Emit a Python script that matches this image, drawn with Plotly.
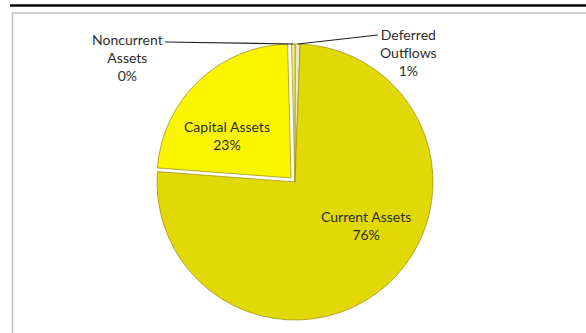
import math
import plotly.graph_objects as go

# Asset composition (percent of total)
labels = ["Deferred Outflows", "Current Assets", "Capital Assets", "Noncurrent Assets"]
label_lines = ["Deferred<br>Outflows", "Current Assets", "Capital Assets", "Noncurrent<br>Assets"]
values = [0.6, 75.6, 23.4, 0.4]

# Styling
colors = ["#EEE8C6", "#E1D905", "#F9F500", "#F3EC80"]
exploded = "Capital Assets"        # slice drawn separately, nudged outward

W, H = 586, 333
CX, CY, R = 295, 182, 138          # pie centre / radius in pixels
EX_DX, EX_DY, EX_R = -4, -4, 134   # exploded slice: offset and radius in pixels


def px(x):
    return x / W


def py(y):
    return 1 - y / H


def domain(cx, cy, r):
    return dict(x=[px(cx - r), px(cx + r)], y=[py(cy + r), py(cy - r)])


total = sum(values)
pct = [f"{round(v / total * 100):.0f}%" for v in values]

clear = "rgba(0,0,0,0)"
edge = "#A39520"
base_colors = [clear if n == exploded else c for n, c in zip(labels, colors)]
base_lines = [clear if n == exploded else edge for n in labels]
ex_colors = [c if n == exploded else clear for n, c in zip(labels, colors)]
ex_lines = [edge if n == exploded else clear for n in labels]

common = dict(
    labels=labels, values=values, sort=False, direction="clockwise", rotation=0,
    textinfo="none", hoverinfo="label+percent", showlegend=False,
)

fig = go.Figure()
fig.add_trace(go.Pie(
    **common,
    marker=dict(colors=base_colors, line=dict(color=base_lines, width=0.8)),
    domain=domain(CX, CY, R),
))
fig.add_trace(go.Pie(
    **common,
    marker=dict(colors=ex_colors, line=dict(color=ex_lines, width=0.8)),
    domain=domain(CX + EX_DX, CY + EX_DY, EX_R),
))

# label placement (pixel centres of each text block) and leader-line anchors
label_pos = {
    "Deferred Outflows": (409, 52),
    "Current Assets": (366, 225),
    "Capital Assets": (227, 135.5),
    "Noncurrent Assets": (127, 58),
}
leader_start = {
    "Deferred Outflows": (378, 35),
    "Noncurrent Assets": (165, 42),
}

font = dict(family="Lato, Open Sans, sans-serif", size=14, color="#2E2E2E")
annotations = []
shapes = []
cum = 0.0
for name, lines, v, p in zip(labels, label_lines, values, pct):
    mid = (cum + v / 2) / total
    cum += v
    lx, ly = label_pos[name]
    annotations.append(
        dict(
            x=px(lx), y=py(ly), xref="paper", yref="paper",
            text=f"{lines}<br>{p}", showarrow=False,
            xanchor="center", yanchor="middle", align="center", font=font,
        )
    )
    if name in leader_start:
        theta = 2 * math.pi * mid
        ex = CX + R * math.sin(theta)
        ey = CY - R * math.cos(theta)
        sx, sy = leader_start[name]
        shapes.append(
            dict(type="line", xref="paper", yref="paper",
                 x0=px(sx), y0=py(sy), x1=px(ex), y1=py(ey),
                 line=dict(color="#222222", width=1.2))
        )

# page rule above the chart and the chart-area frame
shapes += [
    dict(type="line", xref="paper", yref="paper", x0=px(10), x1=1, y0=py(5.5), y1=py(5.5),
         line=dict(color="#000000", width=2.5)),
    dict(type="line", xref="paper", yref="paper", x0=px(12), x1=1, y0=py(13), y1=py(13),
         line=dict(color="#BFBFBF", width=1.5)),
    dict(type="line", xref="paper", yref="paper", x0=px(12.5), x1=px(12.5), y0=0, y1=py(13),
         line=dict(color="#BFBFBF", width=1.5)),
]

fig.update_layout(
    width=W, height=H,
    margin=dict(l=0, r=0, t=0, b=0),
    paper_bgcolor="white", plot_bgcolor="white",
    annotations=annotations, shapes=shapes,
)

fig.write_html("out.html")
